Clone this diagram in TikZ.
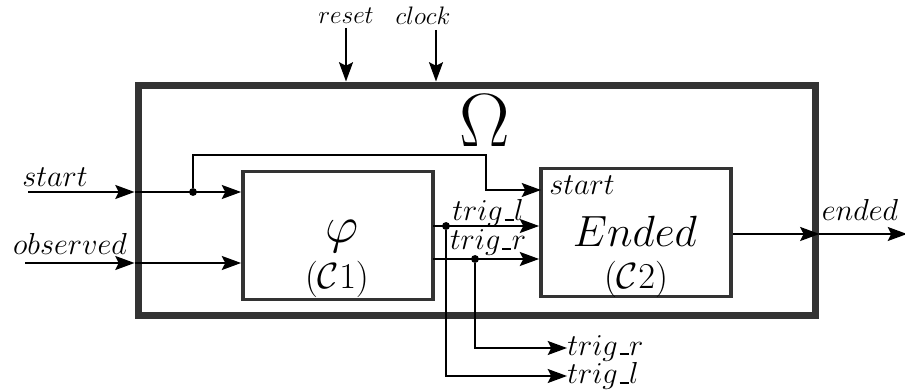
\documentclass[tikz,border=0pt]{standalone}
\usetikzlibrary{arrows.meta}

\newcommand{\usc}{\kern.06em\vbox{\hrule width .3em height 1pt}\kern.02em}

\begin{document}
\begin{tikzpicture}[
    x=0.02cm, y=-0.02cm,
    outer/.style={draw=black!80, line width=4pt, minimum width=13.56cm, minimum height=4.62cm, inner sep=0pt},
    block/.style={draw=black!80, line width=2.2pt, minimum width=3.8cm, minimum height=2.56cm, inner sep=0pt},
    arrow/.style={-{Stealth[length=11pt,width=8pt,inset=2pt]}, line width=0.9pt},
    dot/.style={circle, fill=black, inner sep=0pt, minimum size=4.5pt},
    sig/.style={font=\fontsize{17}{20}\selectfont, inner sep=0pt},
    small/.style={font=\fontsize{14}{16}\selectfont, inner sep=1pt}
]
    \useasboundingbox (0,0) rectangle (905,391);

    % --- Outer block ---
    \node[outer] (omega) at (477,200.5) {};
    \node[font=\Huge, scale=1.73] (omegalbl) at (485,121) {$\Omega$};

    % --- Block C1 ---
    \node[block] (c1) at (338,235.5) {};
    \node[font=\Huge, scale=1.18] (phi) at (342,236) {$\varphi$};
    \node[font=\huge, inner sep=0pt] (c1lbl) at (337,279) {$(\mathcal{C}1)$};

    % --- Block C2 ---
    \node[block] (c2) at (636,232.5) {};
    \node[font=\Huge, inner sep=0pt] (ended) at (635,231) {$Ended$};
    \node[font=\huge, inner sep=0pt] (c2lbl) at (636,279) {$(\mathcal{C}2)$};
    \node[sig, anchor=west] (c2start) at (549,185) {$start$};

    % --- Top inputs ---
    \node[small] (rstlbl) at (346,16) {$reset$};
    \node[small] (clklbl) at (423,16) {$clock$};
    \coordinate (rst) at (346,28);
    \coordinate (clk) at (436,30);
    \draw[arrow] (rst) -- (rst |- omega.north);
    \draw[arrow] (clk) -- (clk |- omega.north);

    % --- Left inputs ---
    \node[sig] (startlbl) at (55,177) {$start$};
    \node[sig] (obslbl) at (70,244) {$observed$};
    \coordinate (instart) at (28,192);
    \coordinate (inobs) at (25,263);
    \draw[arrow] (instart) -- (instart -| omega.west);
    \draw[arrow] (inobs) -- (inobs -| omega.west);
    \draw[arrow] (instart -| omega.west) -- (instart -| c1.west);
    \draw[arrow] (inobs -| omega.west) -- (inobs -| c1.west);

    % start to C2
    \node[dot] (split) at (193,192) {};
    \coordinate (bend) at (486,155);
    \coordinate (c2in) at (541,190);
    \draw[arrow] (split) |- (bend) |- (c2in);

    % --- C1 outputs ---
    \coordinate (tlout) at (433,226);
    \coordinate (trout) at (433,259);
    \draw[arrow] (tlout) -- (tlout -| c2.west);
    \draw[arrow] (trout) -- (trout -| c2.west);
    \node[sig] (tllbl) at (488,213) {$trig\usc l$};
    \node[sig] (trlbl) at (488,243) {$trig\usc r$};
    \node[dot] (tldot) at (446,226) {};
    \node[dot] (trdot) at (475,259) {};
    \node[sig, anchor=west] (trout2) at (567,348) {$trig\usc r$};
    \node[sig, anchor=west] (tlout2) at (567,376) {$trig\usc l$};
    \draw[arrow] (trdot) |- (trout2.west);
    \draw[arrow] (tldot) |- (tlout2.west);

    % --- Output ---
    \coordinate (endfree) at (907,234);
    \draw[arrow] (c2.east |- endfree) -- (endfree -| omega.east);
    \draw[arrow] (endfree -| omega.east) -- (endfree);
    \node[sig] (endlbl) at (860,210) {$ended$};

\end{tikzpicture}
\end{document}
